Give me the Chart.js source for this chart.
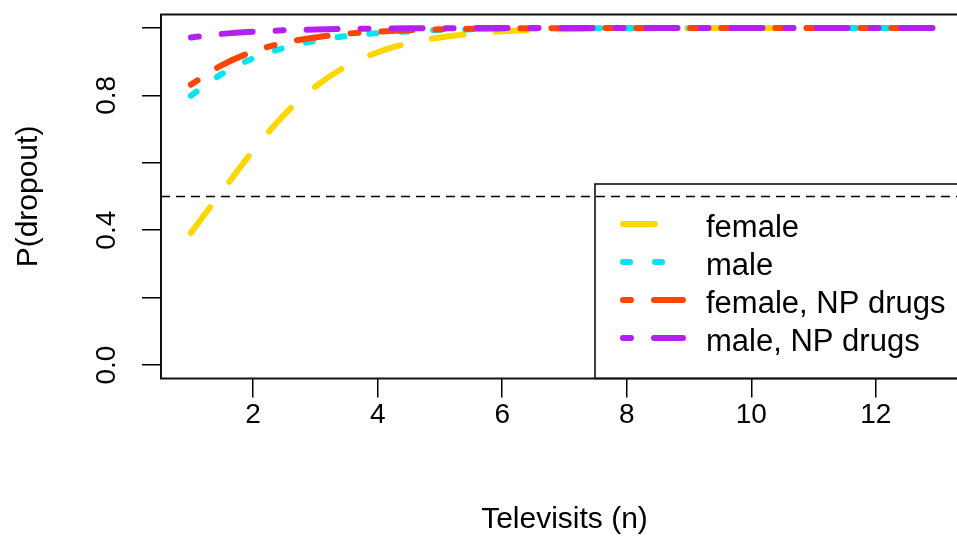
<!DOCTYPE html>
<html><head><meta charset="utf-8">
<script src="https://cdn.jsdelivr.net/npm/chart.js@4.4.1/dist/chart.umd.min.js"></script>
<style>html,body{margin:0;padding:0;overflow:hidden;background:#fff}#wrap{width:975px;height:537px;position:relative}</style>
</head><body><div id="wrap"><canvas id="c"></canvas></div>
<script>
const X_VALUES   = [1, 1.5, 2, 2.5, 3, 3.5, 4, 4.5, 5, 5.5, 6, 7, 8, 9, 10, 11, 12, 13];
const FEMALE     = [0.392, 0.515, 0.636, 0.743, 0.826, 0.887, 0.928, 0.955, 0.972, 0.983, 0.990, 0.996, 0.9986, 0.9995, 0.9998, 0.9999, 1.0, 1.0];
const MALE       = [0.799, 0.864, 0.910, 0.941, 0.962, 0.976, 0.985, 0.990, 0.994, 0.996, 0.9976, 0.9991, 0.9996, 0.9999, 1.0, 1.0, 1.0, 1.0];
const FEMALE_NP  = [0.832, 0.890, 0.930, 0.956, 0.972, 0.983, 0.989, 0.9935, 0.996, 0.9976, 0.9985, 0.9994, 0.9998, 0.9999, 1.0, 1.0, 1.0, 1.0];
const MALE_NP    = [0.972, 0.9825, 0.989, 0.9931, 0.9957, 0.9973, 0.9983, 0.9989, 0.9994, 0.9996, 0.9997, 0.9999, 1.0, 1.0, 1.0, 1.0, 1.0, 1.0];
const SERIES_LABELS = ['female', 'male', 'female, NP drugs', 'male, NP drugs'];
const X_TICKS = [2, 4, 6, 8, 10, 12];
const Y_TICKS = [0, 0.2, 0.4, 0.6, 0.8, 1.0];
const Y_TICK_LABELS = ['0.0', '', '0.4', '', '0.8', ''];
const X_TITLE = 'Televisits (n)';
const Y_TITLE = 'P(dropout)';
const REF_LINE = 0.5;

const FONT = "'Liberation Sans', Arial, sans-serif";
const COLORS = ['#FFD700', '#00E5EE', '#FF4500', '#B520F2'];
const DASHES = [[32, 32], [7, 25], [8, 23, 31, 23], [8, 23, 31, 23]];
const SERIES = [FEMALE, MALE, FEMALE_NP, MALE_NP];

const datasets = SERIES.map((vals, i) => ({
  label: SERIES_LABELS[i],
  data: X_VALUES.map((x, j) => ({x: x, y: vals[j]})),
  borderColor: COLORS[i],
  backgroundColor: COLORS[i],
  borderWidth: 6,
  borderDash: DASHES[i],
  borderCapStyle: 'round',
  borderJoinStyle: 'round',
  pointRadius: 0,
  fill: false,
  cubicInterpolationMode: 'monotone',
  order: SERIES.length - i
}));

const decor = {
  id: 'decor',
  afterDatasetsDraw(chart) {
    const ctx = chart.ctx, a = chart.chartArea;
    const y = chart.scales.y;
    ctx.save();
    // legend box
    const lx = 595, ly = 184, lb = a.bottom;
    ctx.strokeStyle = '#000'; ctx.lineWidth = 1.5;
    ctx.fillStyle = '#fff';
    ctx.fillRect(lx, ly, chart.width - lx + 20, lb - ly);
    ctx.strokeRect(lx, ly, chart.width - lx + 20, lb - ly);
    // legend entries
    const rows = [224, 262, 300, 338];
    chart.data.datasets.forEach((ds, i) => {
      ctx.save();
      ctx.strokeStyle = ds.borderColor; ctx.lineWidth = ds.borderWidth;
      ctx.lineCap = 'round'; ctx.setLineDash(ds.borderDash);
      ctx.beginPath(); ctx.moveTo(623, rows[i]); ctx.lineTo(683, rows[i]); ctx.stroke();
      ctx.restore();
      ctx.fillStyle = '#000'; ctx.font = '31px ' + FONT;
      ctx.textBaseline = 'middle'; ctx.textAlign = 'left';
      ctx.fillText(ds.label, 706, rows[i] + 4);
    });
    // reference line
    const ry = y.getPixelForValue(REF_LINE);
    ctx.strokeStyle = '#000'; ctx.lineWidth = 1.4; ctx.setLineDash([9, 6]);
    ctx.beginPath(); ctx.moveTo(a.left, ry); ctx.lineTo(a.right, ry); ctx.stroke();
    ctx.setLineDash([]);
    // plot box
    ctx.lineWidth = 2; ctx.strokeStyle = '#111';
    ctx.strokeRect(a.left, a.top, a.right - a.left, a.bottom - a.top);
    ctx.restore();
  }
};

new Chart(document.getElementById('c'), {
  type: 'line',
  data: {datasets},
  plugins: [decor],
  options: {
    responsive: true, maintainAspectRatio: false, animation: false,
    layout: {padding: {top: 14.5, right: 7, left: 0, bottom: 0}},
    plugins: {legend: {display: false}, tooltip: {enabled: false}},
    scales: {
      x: {
        type: 'linear', min: 0.52, max: 13.48,
        afterBuildTicks: s => { s.ticks = X_TICKS.map(v => ({value: v})); },
        afterFit: s => { s.height = 537 - 378.5; s.paddingLeft = 0; s.paddingRight = 0; },
        ticks: {autoSkip: false, maxRotation: 0, color: '#000', padding: 1,
                font: {family: FONT, size: 28}, callback: v => String(v)},
        grid: {drawOnChartArea: false, drawTicks: true, tickLength: 19, color: '#000', lineWidth: 1.5},
        border: {display: false},
        title: {display: true, text: X_TITLE, color: '#000', font: {family: FONT, size: 30}, padding: {top: 0, bottom: -1}}
      },
      y: {
        type: 'linear', min: -0.04, max: 1.04,
        afterBuildTicks: s => { s.ticks = Y_TICKS.map(v => ({value: v})); },
        afterFit: s => { s.width = 161; s.paddingTop = 0; s.paddingBottom = 0; },
        ticks: {autoSkip: false, minRotation: 90, maxRotation: 90, crossAlign: 'center', color: '#000', padding: 15,
                font: {family: FONT, size: 28}, callback: (v, i) => Y_TICK_LABELS[i]},
        grid: {drawOnChartArea: false, drawTicks: true, tickLength: 19, color: '#000', lineWidth: 1.5},
        border: {display: false},
        title: {display: true, text: Y_TITLE, color: '#000', font: {family: FONT, size: 30}, padding: {top: 11, bottom: 0}}
      }
    }
  }
});
</script></body></html>
